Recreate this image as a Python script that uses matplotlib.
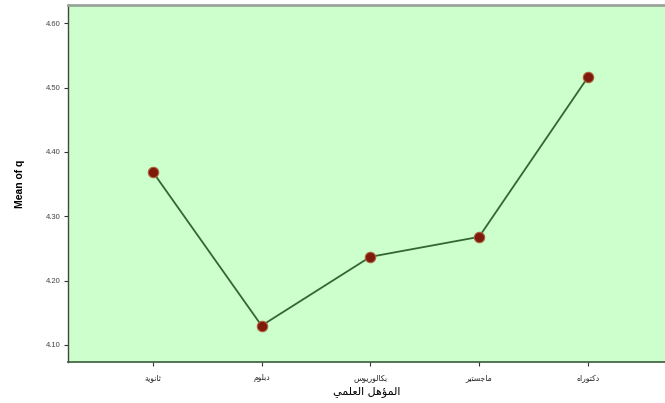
import matplotlib
matplotlib.use("Agg")
import matplotlib.pyplot as plt
from matplotlib.ticker import FormatStrFormatter

# ---- data ----
categories = ["ثانوية", "دبلوم", "بكالوريوس", "ماجستير", "دكتوراه"]
mean_q = [4.369, 4.130, 4.237, 4.268, 4.516]
y_ticks = [4.10, 4.20, 4.30, 4.40, 4.50, 4.60]
x_title = "المؤهل العلمي"
y_title = "Mean of q"

# ---- minimal Arabic shaping (presentation forms + visual order) ----
# letter: (isolated, final, initial, medial); None for initial/medial = right-joining only
FORMS = {
    "ا": (0xFE8D, 0xFE8E, None, None),
    "ب": (0xFE8F, 0xFE90, 0xFE91, 0xFE92),
    "ة": (0xFE93, 0xFE94, None, None),
    "ت": (0xFE95, 0xFE96, 0xFE97, 0xFE98),
    "ث": (0xFE99, 0xFE9A, 0xFE9B, 0xFE9C),
    "ج": (0xFE9D, 0xFE9E, 0xFE9F, 0xFEA0),
    "د": (0xFEA9, 0xFEAA, None, None),
    "ر": (0xFEAD, 0xFEAE, None, None),
    "س": (0xFEB1, 0xFEB2, 0xFEB3, 0xFEB4),
    "ع": (0xFEC9, 0xFECA, 0xFECB, 0xFECC),
    "ك": (0xFED9, 0xFEDA, 0xFEDB, 0xFEDC),
    "ل": (0xFEDD, 0xFEDE, 0xFEDF, 0xFEE0),
    "م": (0xFEE1, 0xFEE2, 0xFEE3, 0xFEE4),
    "ن": (0xFEE5, 0xFEE6, 0xFEE7, 0xFEE8),
    "ه": (0xFEE9, 0xFEEA, 0xFEEB, 0xFEEC),
    "و": (0xFEED, 0xFEEE, None, None),
    "ؤ": (0xFE85, 0xFE86, None, None),
    "ي": (0xFEF1, 0xFEF2, 0xFEF3, 0xFEF4),
}


def shape(text):
    out = []
    n = len(text)
    for i, ch in enumerate(text):
        if ch not in FORMS:
            out.append(ch)
            continue
        iso, fin, ini, med = FORMS[ch]
        prev = text[i - 1] if i > 0 else None
        nxt = text[i + 1] if i < n - 1 else None
        joins_prev = prev in FORMS and FORMS[prev][2] is not None
        joins_next = ini is not None and nxt in FORMS
        if joins_prev and joins_next:
            code = med
        elif joins_prev:
            code = fin
        elif joins_next:
            code = ini
        else:
            code = iso
        out.append(chr(code))
    return "".join(out)[::-1]


# ---- figure ----
W, H = 665, 403
fig = plt.figure(figsize=(W / 100, H / 100), dpi=100, facecolor="white")
left, bottom, top = 68, 362, 5
ax = fig.add_axes([left / W, 1 - bottom / H, 1 - left / W, (bottom - top) / H])
ax.set_facecolor("#ccffcc")

x = list(range(len(categories)))
ax.plot(x, mean_q, color="#336633", lw=1.3, zorder=2)
ax.plot(x, mean_q, ls="none", marker="o", ms=7.5, mfc="#7d1a0c",
        mec="#b0603a", mew=0.8, zorder=3)

ax.set_xlim(-0.78, 4.71)
ax.set_ylim(4.0735, 4.6285)
ax.set_yticks(y_ticks)
ax.yaxis.set_major_formatter(FormatStrFormatter("%.2f"))
ax.set_xticks(x)
ax.set_xticklabels([shape(c) for c in categories], fontsize=5.5,
                   family="DejaVu Sans", color="#222222")
for lab in ax.get_yticklabels():
    lab.set_fontsize(5.5)
    lab.set_family("Liberation Sans")
    lab.set_color("#444444")

ax.tick_params(axis="both", direction="out", length=3, width=0.8,
               color="#333333", pad=2)
ax.tick_params(axis="x", pad=5)

ax.spines["right"].set_visible(False)
ax.spines["left"].set_color("#444444")
ax.spines["left"].set_linewidth(1.0)
ax.spines["bottom"].set_color("#3b5a3b")
ax.spines["bottom"].set_linewidth(1.2)
ax.spines["top"].set_color("#9aa59a")
ax.spines["top"].set_linewidth(2.0)

ax.set_ylabel(y_title, fontsize=7.5, fontweight="bold",
              family="Liberation Sans", labelpad=15)
ax.set_xlabel(shape(x_title), fontsize=8, family="DejaVu Sans", labelpad=3)

fig.savefig("out.png", dpi=100, facecolor="white")
